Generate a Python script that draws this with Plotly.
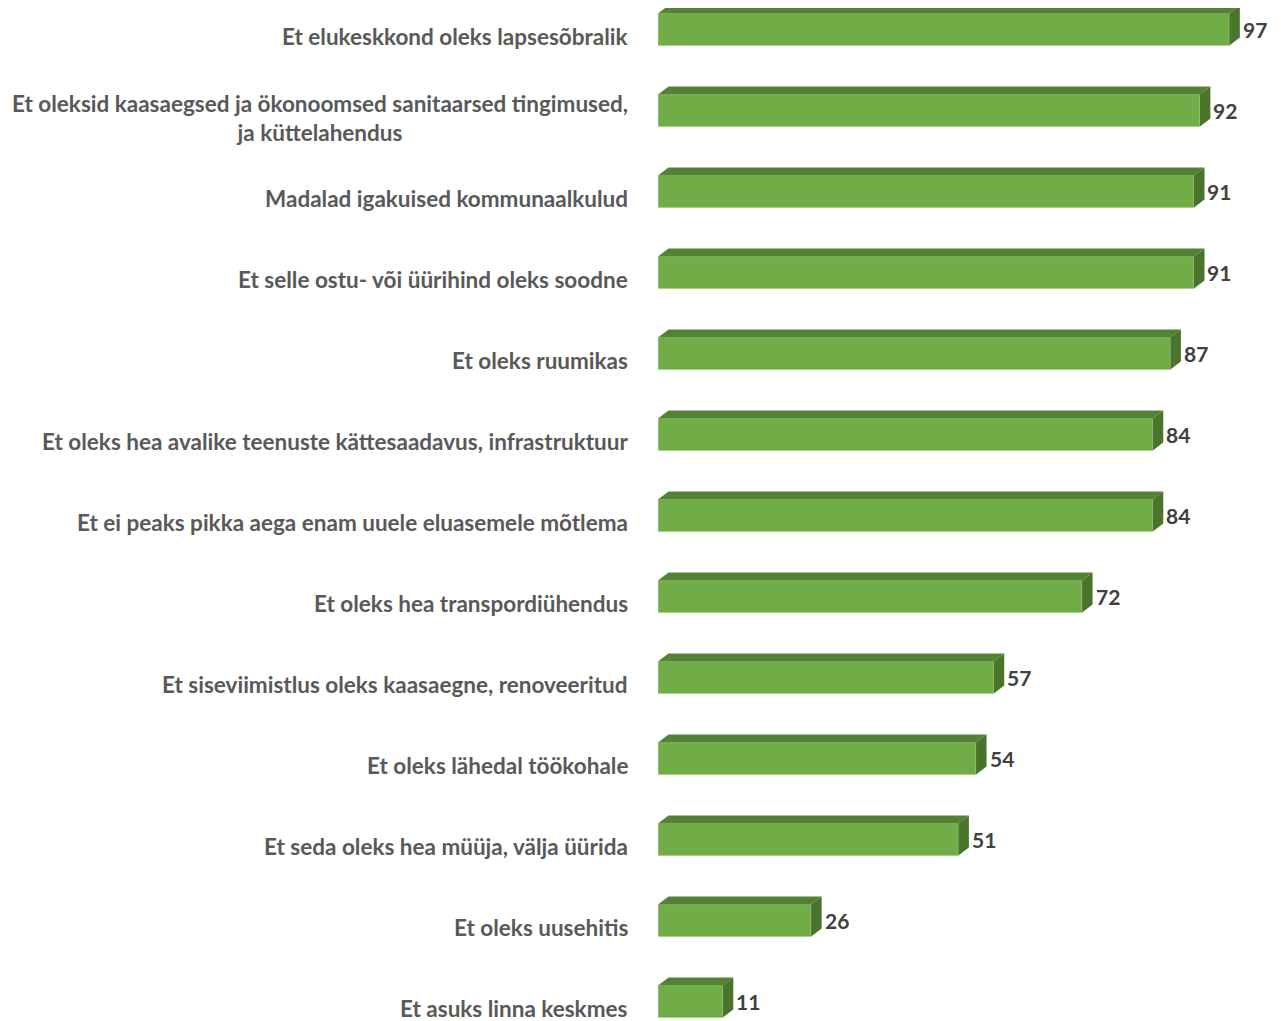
import plotly.graph_objects as go

labels = [
    'Et elukeskkond oleks lapsesõbralik',
    'Et oleksid kaasaegsed ja ökonoomsed sanitaarsed tingimused,<br>ja küttelahendus',
    'Madalad igakuised kommunaalkulud',
    'Et selle ostu- või üürihind oleks soodne',
    'Et oleks ruumikas',
    'Et oleks hea avalike teenuste kättesaadavus, infrastruktuur',
    'Et ei peaks pikka aega enam uuele eluasemele mõtlema',
    'Et oleks hea transpordiühendus',
    'Et siseviimistlus oleks kaasaegne, renoveeritud',
    'Et oleks lähedal töökohale',
    'Et seda oleks hea müüja, välja üürida',
    'Et oleks uusehitis',
    'Et asuks linna keskmes',
]
values = [97, 92, 91, 91, 87, 84, 84, 72, 57, 54, 51, 26, 11]

# page body has an 8px margin, so the figure starts at (8, 8)
W, H = 1273, 1013
ML, MR = 650, 0
px_x = 5.89          # pixels per unit on x
row_px = 81.0        # pixels between rows
first_row = 21.5     # pixel centre of first bar's front face (figure coords)
bar_px = 32          # front face height
dx_px, dy_px = 10.5, 8

xmax = (W - ML - MR) / px_x
dx = dx_px / px_x
dy = dy_px / row_px
h = bar_px / row_px

idx = list(range(len(values)))

# top and side faces of the pseudo-3D bars
top_x, top_y, side_x, side_y = [], [], [], []
for i, v in zip(idx, values):
    y0 = i - h / 2
    top_x += [0, v, v + dx, dx, 0, None]
    top_y += [y0, y0, y0 - dy, y0 - dy, y0, None]
    side_x += [v, v + dx, v + dx, v, v, None]
    side_y += [y0, y0 - dy, i + h / 2 - dy, i + h / 2, y0, None]

fig = go.Figure()
fig.add_trace(go.Scatter(
    x=top_x, y=top_y, fill='toself', mode='lines',
    fillcolor='#548235', line=dict(width=0, color='#548235'), hoverinfo='skip'))
fig.add_trace(go.Scatter(
    x=side_x, y=side_y, fill='toself', mode='lines',
    fillcolor='#4A742C', line=dict(width=0, color='#4A742C'), hoverinfo='skip'))
fig.add_bar(
    x=values, y=idx, orientation='h', width=h,
    marker=dict(color='#70AD47', line=dict(color='#A9D18E', width=1)),
    hoverinfo='skip')

for i, v, lab in zip(idx, values, labels):
    fig.add_annotation(
        x=0, y=i, xref='x', yref='y', text=lab, showarrow=False,
        xanchor='right', align='center', xshift=-28, yshift=-7,
        font=dict(family='Lato', size=22.5, color='#595959', weight='bold'))
    fig.add_annotation(
        x=v + dx, y=i, xref='x', yref='y', text=str(v), showarrow=False,
        xanchor='left', xshift=1,
        font=dict(family='Lato', size=21, color='#404040', weight='bold'))

fig.update_xaxes(range=[0, xmax], visible=False, fixedrange=True)
fig.update_yaxes(range=[(H - first_row) / row_px, -first_row / row_px],
                 visible=False, fixedrange=True)
fig.update_layout(
    width=W, height=H, showlegend=False,
    margin=dict(l=ML, r=MR, t=0, b=0),
    plot_bgcolor='white', paper_bgcolor='white')

fig.write_html('out.html')
